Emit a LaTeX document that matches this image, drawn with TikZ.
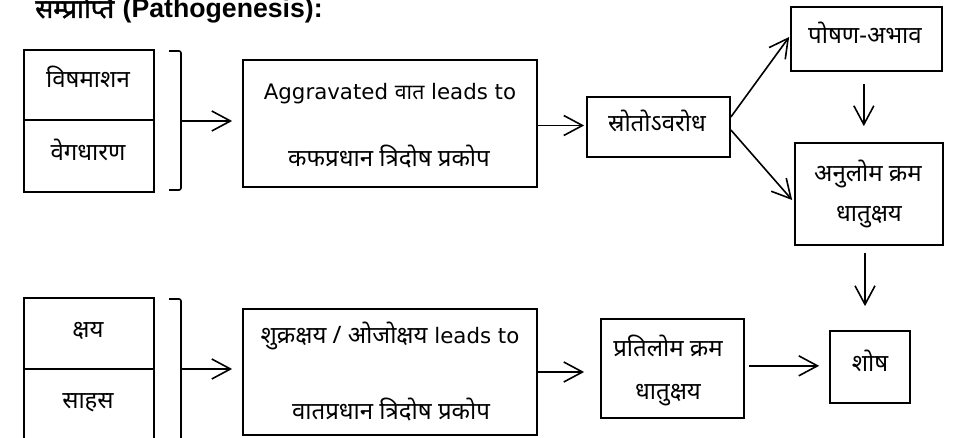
\documentclass[tikz,border=0pt]{standalone}
\usepackage{fontspec}
\setmainfont{DejaVu Sans}
\newfontfamily\dev[Script=Devanagari]{Noto Sans}
\newfontfamily\titlefont{Liberation Sans}
\newfontfamily\titledev[Script=Devanagari,FakeBold=1.5]{Noto Sans}
\usetikzlibrary{arrows.meta}
\begin{document}
\begin{tikzpicture}[x=0.75pt,y=-0.75pt,
  box/.style={draw,line width=1.3pt,inner sep=0pt},
  dtxt/.style={anchor=base,inner sep=0pt,font=\dev\fontsize{18}{21}\selectfont},
  ltxt/.style={anchor=base,inner sep=0pt,font=\fontsize{16}{19}\selectfont},
  arr/.style={line width=1.2pt,-{Straight Barb[length=14pt,width=15pt]}},
  brk/.style={line width=1.2pt,rounded corners=1.5pt}]
\useasboundingbox (0,0) rectangle (953,438);
\clip (0,0) rectangle (953,438);
% title
\node[anchor=base west,inner sep=0pt,font=\fontsize{20}{24}\selectfont] (title) at (35,18)
  {{\titledev सम्प्राप्ति} {\titlefont\bfseries (Pathogenesis):}};
% boxes
\node[box,minimum width=97.5pt,minimum height=52.5pt] (visham) at (89,85) {};
\node[box,minimum width=97.5pt,minimum height=54pt] (vega) at (89,156) {};
\node[box,minimum width=220.5pt,minimum height=95.25pt] (aggr) at (390,123.5) {};
\node[box,minimum width=107.25pt,minimum height=45pt] (sroto) at (658.5,127) {};
\node[box,minimum width=113.25pt,minimum height=48pt] (poshan) at (866.5,39) {};
\node[box,minimum width=111pt,minimum height=76.5pt] (anulom) at (869,194) {};
\node[box,minimum width=97.5pt,minimum height=53.25pt] (kshaya) at (89,333.5) {};
\node[box,minimum width=97.5pt,minimum height=57pt] (sahas) at (89,407) {};
\node[box,minimum width=220.5pt,minimum height=94.5pt] (shukra) at (390,372) {};
\node[box,minimum width=107.25pt,minimum height=74.25pt] (prati) at (672.5,368.5) {};
\node[box,minimum width=60pt,minimum height=54pt] (shosha) at (870,367) {};
% texts
\node[dtxt] (tvisham) at (88,88) {विषमाशन};
\node[dtxt] (tvega) at (88,161) {वेगधारण};
\node[ltxt] (taggr1) at (390,100) {Aggravated {\dev वात} leads to};
\node[dtxt] (taggr2) at (389,167) {कफप्रधान त्रिदोष प्रकोप};
\node[dtxt] (tsroto) at (657,132) {स्रोतोऽवरोध};
\node[dtxt] (tposhan) at (865,44) {पोषण-अभाव};
\node[dtxt] (tanulom1) at (868,182) {अनुलोम क्रम};
\node[dtxt] (tanulom2) at (869,222) {धातुक्षय};
\node[dtxt] (tkshaya) at (88,337) {क्षय};
\node[dtxt] (tsahas) at (88,408) {साहस};
\node[ltxt] (tshukra1) at (390,344) {{\dev\fontsize{18}{21}\selectfont शुक्रक्षय / ओजोक्षय} leads to};
\node[dtxt] (tshukra2) at (391,419) {वातप्रधान त्रिदोष प्रकोप};
\node[dtxt] (tprati1) at (668,356) {प्रतिलोम क्रम};
\node[dtxt] (tprati2) at (668,399) {धातुक्षय};
\node[dtxt] (tshosha) at (870,371) {शोष};
% brackets
\coordinate (b1) at (181,121);
\coordinate (b2) at (181,369);
\draw[brk] (169,51) -- (181,51) -- (181,190) -- (169,190);
\draw[brk] (169,299) -- (181,299) -- (181,460);
% arrows
\draw[arr] (b1) -- ([xshift=-7.5pt]b1 -| aggr.west);
\draw[arr] (b2) -- ([xshift=-7.5pt]b2 -| aggr.west);
\draw[arr,shorten >=1.5pt] ([yshift=-1.5pt]aggr.east) -- ([yshift=-1.5pt]aggr.east -| sroto.west);
\draw[arr] ([yshift=7.5pt]sroto.east) -- ([xshift=-0.75pt,yshift=1.5pt]poshan.west);
\draw[arr] ([yshift=-2.25pt]sroto.east) -- ([xshift=-1.5pt,yshift=-4.5pt]anulom.west);
\draw[arr,shorten <=9pt,shorten >=12pt] ([xshift=-2pt]poshan.south) -- ([xshift=-2pt]poshan.south |- anulom.north);
\draw[arr,shorten <=5pt,shorten >=18pt] ([xshift=-3pt]anulom.south) -- ([xshift=-3pt]anulom.south |- shosha.north);
\draw[arr,shorten >=12pt] (shukra.east) -- (shukra.east -| prati.west);
\draw[arr,shorten <=3pt,shorten >=7.5pt] ([yshift=2pt]prati.east) -- ([yshift=2pt]prati.east -| shosha.west);
\end{tikzpicture}
\end{document}
